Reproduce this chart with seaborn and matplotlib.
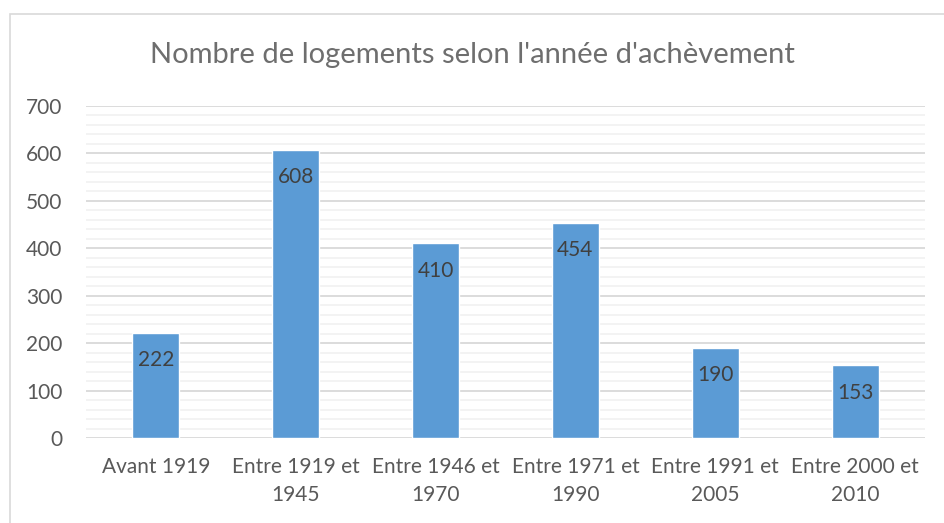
import matplotlib
matplotlib.use("Agg")
import matplotlib.pyplot as plt
from matplotlib.patches import Rectangle
from matplotlib.ticker import MultipleLocator
import seaborn as sns
import pandas as pd

periods = ["Avant 1919", "Entre 1919 et\n1945", "Entre 1946 et\n1970",
           "Entre 1971 et\n1990", "Entre 1991 et\n2005", "Entre 2000 et\n2010"]
logements = [222, 608, 410, 454, 190, 153]

df = pd.DataFrame({"periode": periods, "logements": logements})

sns.set_style("white")
plt.rcParams['font.family'] = ['Lato', 'DejaVu Sans']

fig = plt.figure(figsize=(9.44, 5.23), dpi=100)
ax = fig.add_axes([0.091, 0.1625, 0.889, 0.635])

sns.barplot(data=df, x="periode", y="logements", color="#5B9BD5",
            width=0.335, saturation=1, ax=ax, zorder=3)

ax.set_ylim(0, 700)
ax.set_xlim(-0.5, 5.5)
ax.yaxis.set_major_locator(MultipleLocator(100))
ax.yaxis.set_minor_locator(MultipleLocator(20))
ax.grid(axis="y", which="major", color="#D9D9D9", linewidth=1.3, zorder=0)
ax.grid(axis="y", which="minor", color="#F2F2F2", linewidth=1.3, zorder=0)
ax.set_axisbelow(True)
for s in ax.spines.values():
    s.set_visible(False)

ax.set_xlabel("")
ax.set_ylabel("")
ax.tick_params(axis="both", which="both", length=0, labelsize=15, colors="#595959")
ax.tick_params(axis="x", pad=14)
ax.tick_params(axis="y", pad=17)
for lbl in ax.get_xticklabels():
    lbl.set_linespacing(1.45)

for i, v in enumerate(logements):
    ax.text(i, v - 58, str(v), ha="center", va="center", fontsize=15, color="#404040")

fig.text(0.5, 1 - 55 / 523, "Nombre de logements selon l'année d'achèvement",
         ha="center", va="center", fontsize=21, color="#6E6E6E")

fig.patches.append(Rectangle((10 / 944, -0.05), 1.1, 1 - 14 / 523 + 0.05,
                             transform=fig.transFigure, fill=False,
                             edgecolor="#D9D9D9", linewidth=1.2))

fig.savefig("out.png", dpi=100)
